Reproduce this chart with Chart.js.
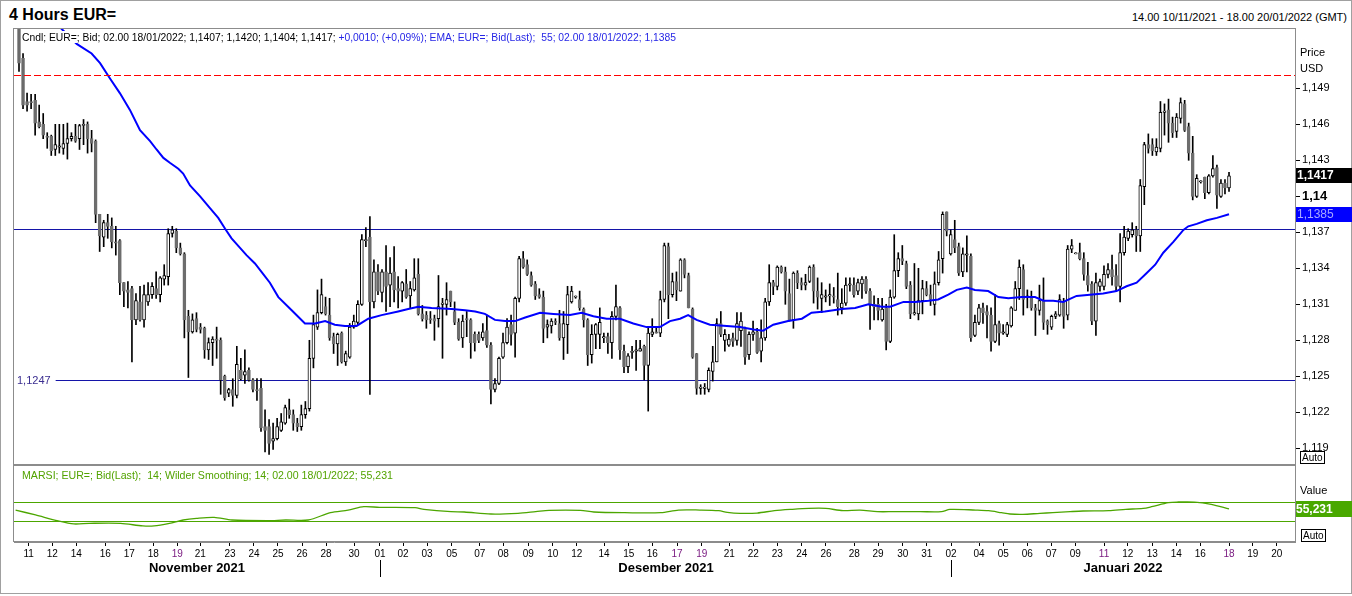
<!DOCTYPE html>
<html><head><meta charset="utf-8">
<script src="https://cdn.jsdelivr.net/npm/chart.js@4.4.1/dist/chart.umd.min.js"></script>
<style>
html,body{margin:0;padding:0;background:#fff;}
body{width:1352px;height:596px;position:relative;overflow:hidden;font-family:"Liberation Sans",Arial,sans-serif;color:#000;}
.t{position:absolute;white-space:pre;line-height:1.1;}
.box{position:absolute;border:1px solid #000;font-size:10px;line-height:11px;padding:0 1px;background:#fff;}
canvas{position:absolute;left:0;}
#frame{position:absolute;left:0;top:0;width:1352px;height:594px;box-sizing:border-box;border:1px solid #a0a0a0;}
</style></head><body>
<div id="frame"></div>
<canvas id="main" width="1352" height="437" style="top:28px"></canvas>
<canvas id="rsi" width="1352" height="125" style="top:465px"></canvas>

<div class="t" style="left:9px;top:6px;font-size:16px;font-weight:bold;">4 Hours EUR=</div>
<div class="t" style="right:5px;top:11px;font-size:11px;">14.00 10/11/2021 - 18.00 20/01/2022 (GMT)</div>
<div id="lg1" class="t" style="left:22px;top:31px;font-size:11px;background:#fff;"><span style="color:#000">Cndl; EUR=; Bid; 02.00 18/01/2022; 1,1407; 1,1420; 1,1404; 1,1417; </span><span style="color:#2626e6">+0,0010; (+0,09%); EMA; EUR=; Bid(Last);  55; 02.00 18/01/2022; 1,1385</span></div>
<div id="lg2" class="t" style="left:22px;top:469px;font-size:11px;color:#52a300;">MARSI; EUR=; Bid(Last);  14; Wilder Smoothing; 14; 02.00 18/01/2022; 55,231</div>
<div class="t" style="left:1300px;top:46px;font-size:11px;">Price</div>
<div class="t" style="left:1300px;top:62px;font-size:11px;">USD</div>
<div class="box" style="left:1300px;top:451px;">Auto</div>
<div class="t" style="left:1300px;top:484px;font-size:11px;">Value</div>
<div class="box" style="left:1301px;top:529px;">Auto</div>
<div class="t" style="left:197px;top:561px;font-size:13px;font-weight:bold;transform:translateX(-50%);">November 2021</div>
<div class="t" style="left:666px;top:561px;font-size:13px;font-weight:bold;transform:translateX(-50%);">Desember 2021</div>
<div class="t" style="left:1123px;top:561px;font-size:13px;font-weight:bold;transform:translateX(-50%);">Januari 2022</div>

<script>
// ---- candle data (4-hour EUR= bid), index = candle number ----
const opens = [
1.1540,1.1515,1.1479,1.1479,1.1480,1.1462,1.1460,1.1450,1.1450,1.1439,
1.1441,1.1440,1.1444,1.1448,1.1450,1.1448,1.1459,1.1460,1.1448,1.1446,
1.1385,1.1366,1.1378,1.1375,1.1362,1.1363,1.1328,1.1322,1.1323,1.1297,
1.1312,1.1297,1.1312,1.1318,1.1323,1.1318,1.1331,1.1333,1.1369,1.1371,
1.1357,1.1352,1.1300,1.1287,1.1298,1.1291,1.1290,1.1272,1.1278,1.1281,
1.1280,1.1250,1.1236,1.1239,1.1234,1.1255,1.1251,1.1255,1.1247,1.1239,
1.1240,1.1208,1.1208,1.1196,1.1198,1.1205,1.1211,1.1222,1.1218,1.1211,
1.1208,1.1218,1.1223,1.1265,1.1291,1.1303,1.1308,1.1301,1.1283,1.1277,
1.1286,1.1262,1.1266,1.1291,1.1295,1.1310,1.1363,1.1366,1.1312,1.1337,
1.1320,1.1337,1.1326,1.1337,1.1323,1.1321,1.1327,1.1317,1.1322,1.1335,
1.1302,1.1301,1.1298,1.1298,1.1298,1.1310,1.1310,1.1321,1.1304,1.1295,
1.1282,1.1298,1.1297,1.1285,1.1285,1.1282,1.1288,1.1276,1.1239,1.1244,
1.1266,1.1278,1.1293,1.1286,1.1315,1.1348,1.1343,1.1334,1.1327,1.1318,
1.1316,1.1291,1.1292,1.1296,1.1294,1.1282,1.1293,1.1312,1.1316,1.1314,
1.1306,1.1297,1.1268,1.1285,1.1285,1.1282,1.1283,1.1278,1.1300,1.1307,
1.1271,1.1258,1.1270,1.1271,1.1271,1.1275,1.1259,1.1285,1.1287,1.1286,
1.1314,1.1358,1.1318,1.1329,1.1321,1.1347,1.1334,1.1306,1.1269,1.1240,
1.1240,1.1239,1.1254,1.1262,1.1294,1.1280,1.1276,1.1282,1.1280,1.1288,
1.1290,1.1268,1.1285,1.1287,1.1271,1.1282,1.1312,1.1328,1.1325,1.1341,
1.1337,1.1319,1.1297,1.1336,1.1328,1.1326,1.1329,1.1341,1.1321,1.1315,
1.1316,1.1317,1.1317,1.1314,1.1307,1.1311,1.1326,1.1326,1.1321,1.1327,
1.1331,1.1321,1.1310,1.1310,1.1297,1.1307,1.1279,1.1316,1.1338,1.1348,
1.1344,1.1326,1.1302,1.1302,1.1313,1.1323,1.1318,1.1310,1.1328,1.1348,
1.1387,1.1352,1.1364,1.1358,1.1337,1.1351,1.1350,1.1284,1.1295,1.1307,
1.1304,1.1301,1.1279,1.1294,1.1286,1.1285,1.1292,1.1305,1.1323,1.1339,
1.1316,1.1315,1.1307,1.1305,1.1313,1.1296,1.1291,1.1300,1.1301,1.1312,
1.1301,1.1356,1.1352,1.1353,1.1348,1.1334,1.1327,1.1296,1.1325,1.1325,
1.1335,1.1339,1.1334,1.1325,1.1353,1.1365,1.1368,1.1372,1.1367,1.1408,
1.1443,1.1443,1.1437,1.1440,1.1470,1.1472,1.1461,1.1454,1.1465,1.1477,
1.1458,1.1436,1.1400,1.1412,1.1416,1.1403,1.1417,1.1424,1.1400,1.1411,
1.1407];
const highs = [
1.1545,1.1519,1.1486,1.1485,1.1485,1.1476,1.1469,1.1453,1.1451,1.1460,
1.1460,1.1460,1.1461,1.1453,1.1460,1.1460,1.1464,1.1462,1.1455,1.1447,
1.1385,1.1380,1.1385,1.1382,1.1375,1.1364,1.1328,1.1329,1.1325,1.1319,
1.1325,1.1326,1.1328,1.1328,1.1337,1.1333,1.1343,1.1373,1.1375,1.1373,
1.1361,1.1353,1.1305,1.1302,1.1303,1.1294,1.1291,1.1282,1.1283,1.1291,
1.1282,1.1251,1.1240,1.1248,1.1275,1.1265,1.1272,1.1257,1.1248,1.1248,
1.1248,1.1222,1.1214,1.1211,1.1215,1.1219,1.1226,1.1231,1.1222,1.1215,
1.1226,1.1229,1.1280,1.1301,1.1322,1.1331,1.1316,1.1315,1.1286,1.1286,
1.1287,1.1271,1.1294,1.1301,1.1313,1.1368,1.1374,1.1383,1.1347,1.1343,
1.1339,1.1359,1.1349,1.1358,1.1333,1.1329,1.1339,1.1329,1.1348,1.1348,
1.1309,1.1304,1.1304,1.1301,1.1334,1.1315,1.1328,1.1321,1.1312,1.1298,
1.1301,1.1304,1.1298,1.1287,1.1287,1.1294,1.1301,1.1278,1.1248,1.1266,
1.1286,1.1298,1.1301,1.1316,1.1350,1.1354,1.1347,1.1337,1.1329,1.1323,
1.1321,1.1297,1.1298,1.1298,1.1305,1.1304,1.1325,1.1325,1.1317,1.1321,
1.1307,1.1298,1.1293,1.1294,1.1307,1.1286,1.1286,1.1304,1.1326,1.1308,
1.1276,1.1269,1.1275,1.1280,1.1280,1.1276,1.1291,1.1298,1.1291,1.1321,
1.1361,1.1361,1.1336,1.1337,1.1348,1.1348,1.1336,1.1307,1.1269,1.1243,
1.1244,1.1257,1.1275,1.1298,1.1304,1.1289,1.1285,1.1286,1.1303,1.1303,
1.1291,1.1287,1.1296,1.1290,1.1297,1.1315,1.1343,1.1330,1.1342,1.1342,
1.1341,1.1331,1.1337,1.1338,1.1332,1.1335,1.1342,1.1343,1.1332,1.1328,
1.1322,1.1327,1.1324,1.1336,1.1323,1.1332,1.1332,1.1332,1.1331,1.1333,
1.1333,1.1323,1.1317,1.1315,1.1315,1.1310,1.1322,1.1368,1.1353,1.1359,
1.1346,1.1329,1.1344,1.1340,1.1330,1.1329,1.1326,1.1337,1.1354,1.1387,
1.1387,1.1372,1.1380,1.1361,1.1357,1.1367,1.1352,1.1301,1.1310,1.1311,
1.1309,1.1307,1.1318,1.1296,1.1293,1.1295,1.1308,1.1329,1.1347,1.1343,
1.1322,1.1321,1.1310,1.1326,1.1332,1.1297,1.1301,1.1304,1.1318,1.1315,
1.1359,1.1364,1.1353,1.1361,1.1353,1.1345,1.1329,1.1336,1.1331,1.1342,
1.1344,1.1351,1.1343,1.1369,1.1375,1.1373,1.1378,1.1375,1.1414,1.1445,
1.1452,1.1448,1.1448,1.1479,1.1477,1.1481,1.1466,1.1469,1.1482,1.1480,
1.1461,1.1450,1.1418,1.1413,1.1416,1.1418,1.1434,1.1426,1.1414,1.1414,
1.1420];
const lows = [
1.1504,1.1473,1.1471,1.1473,1.1451,1.1457,1.1448,1.1440,1.1434,1.1434,
1.1436,1.1435,1.1431,1.1446,1.1445,1.1439,1.1443,1.1436,1.1437,1.1378,
1.1354,1.1358,1.1365,1.1357,1.1351,1.1318,1.1308,1.1307,1.1262,1.1293,
1.1296,1.1291,1.1309,1.1315,1.1315,1.1312,1.1326,1.1326,1.1366,1.1353,
1.1351,1.1282,1.1249,1.1286,1.1287,1.1286,1.1265,1.1264,1.1259,1.1265,
1.1235,1.1230,1.1233,1.1225,1.1232,1.1247,1.1244,1.1246,1.1237,1.1230,
1.1204,1.1187,1.1185,1.1189,1.1197,1.1204,1.1210,1.1215,1.1205,1.1204,
1.1205,1.1215,1.1221,1.1257,1.1289,1.1302,1.1301,1.1280,1.1269,1.1259,
1.1261,1.1259,1.1265,1.1290,1.1293,1.1309,1.1358,1.1235,1.1307,1.1318,
1.1312,1.1304,1.1308,1.1312,1.1307,1.1312,1.1315,1.1307,1.1321,1.1301,
1.1296,1.1290,1.1294,1.1280,1.1291,1.1265,1.1301,1.1308,1.1293,1.1280,
1.1274,1.1283,1.1265,1.1271,1.1278,1.1280,1.1274,1.1227,1.1237,1.1243,
1.1265,1.1277,1.1276,1.1266,1.1312,1.1340,1.1334,1.1325,1.1314,1.1315,
1.1278,1.1282,1.1286,1.1293,1.1280,1.1264,1.1269,1.1311,1.1315,1.1305,
1.1291,1.1259,1.1261,1.1273,1.1273,1.1278,1.1269,1.1265,1.1297,1.1264,
1.1253,1.1253,1.1265,1.1255,1.1271,1.1247,1.1221,1.1283,1.1286,1.1283,
1.1312,1.1298,1.1316,1.1313,1.1321,1.1332,1.1307,1.1265,1.1235,1.1235,
1.1235,1.1237,1.1246,1.1262,1.1283,1.1271,1.1275,1.1275,1.1276,1.1275,
1.1260,1.1264,1.1280,1.1269,1.1262,1.1280,1.1309,1.1318,1.1322,1.1336,
1.1310,1.1296,1.1290,1.1323,1.1322,1.1322,1.1328,1.1311,1.1306,1.1303,
1.1312,1.1309,1.1311,1.1301,1.1302,1.1309,1.1321,1.1316,1.1318,1.1315,
1.1319,1.1289,1.1297,1.1297,1.1296,1.1272,1.1278,1.1315,1.1333,1.1343,
1.1323,1.1298,1.1301,1.1297,1.1302,1.1317,1.1309,1.1301,1.1326,1.1336,
1.1367,1.1351,1.1353,1.1334,1.1333,1.1337,1.1279,1.1283,1.1293,1.1294,
1.1282,1.1271,1.1278,1.1276,1.1285,1.1283,1.1291,1.1305,1.1314,1.1301,
1.1307,1.1305,1.1284,1.1301,1.1289,1.1285,1.1289,1.1298,1.1300,1.1290,
1.1297,1.1353,1.1352,1.1347,1.1330,1.1321,1.1293,1.1284,1.1321,1.1322,
1.1332,1.1326,1.1321,1.1312,1.1351,1.1363,1.1366,1.1354,1.1354,1.1393,
1.1436,1.1434,1.1434,1.1437,1.1451,1.1445,1.1449,1.1449,1.1461,1.1454,
1.1430,1.1397,1.1399,1.1411,1.1398,1.1402,1.1416,1.1390,1.1399,1.1402,
1.1404];
const closes = [
1.1511,1.1476,1.1476,1.1478,1.1461,1.1458,1.1451,1.1449,1.1438,1.1443,
1.1442,1.1444,1.1448,1.1450,1.1446,1.1459,1.1460,1.1448,1.1444,1.1385,
1.1367,1.1378,1.1375,1.1362,1.1361,1.1328,1.1321,1.1320,1.1297,1.1313,
1.1297,1.1318,1.1318,1.1325,1.1318,1.1332,1.1334,1.1369,1.1372,1.1357,
1.1352,1.1297,1.1287,1.1297,1.1289,1.1289,1.1272,1.1278,1.1281,1.1280,
1.1247,1.1232,1.1239,1.1234,1.1260,1.1248,1.1254,1.1247,1.1239,1.1238,
1.1207,1.1205,1.1194,1.1198,1.1208,1.1212,1.1224,1.1218,1.1211,1.1208,
1.1218,1.1223,1.1265,1.1293,1.1303,1.1318,1.1302,1.1282,1.1277,1.1285,
1.1262,1.1269,1.1291,1.1296,1.1310,1.1364,1.1364,1.1312,1.1337,1.1321,
1.1337,1.1325,1.1336,1.1322,1.1321,1.1328,1.1316,1.1323,1.1332,1.1302,
1.1298,1.1297,1.1297,1.1296,1.1308,1.1311,1.1314,1.1312,1.1295,1.1281,
1.1296,1.1297,1.1278,1.1278,1.1280,1.1287,1.1276,1.1239,1.1244,1.1265,
1.1278,1.1291,1.1285,1.1315,1.1348,1.1341,1.1335,1.1326,1.1317,1.1316,
1.1290,1.1293,1.1296,1.1295,1.1282,1.1294,1.1318,1.1321,1.1316,1.1307,
1.1297,1.1268,1.1285,1.1293,1.1295,1.1283,1.1278,1.1300,1.1308,1.1272,
1.1258,1.1267,1.1270,1.1272,1.1273,1.1259,1.1286,1.1287,1.1286,1.1314,
1.1359,1.1318,1.1329,1.1322,1.1347,1.1335,1.1307,1.1266,1.1240,1.1241,
1.1241,1.1255,1.1262,1.1294,1.1285,1.1285,1.1281,1.1279,1.1294,1.1296,
1.1266,1.1285,1.1287,1.1270,1.1282,1.1312,1.1328,1.1325,1.1341,1.1337,
1.1321,1.1297,1.1336,1.1328,1.1326,1.1328,1.1341,1.1321,1.1316,1.1318,
1.1317,1.1318,1.1316,1.1308,1.1311,1.1326,1.1327,1.1318,1.1328,1.1331,
1.1321,1.1310,1.1308,1.1305,1.1306,1.1279,1.1316,1.1338,1.1348,1.1346,
1.1325,1.1302,1.1303,1.1313,1.1323,1.1318,1.1314,1.1327,1.1347,1.1385,
1.1371,1.1368,1.1357,1.1336,1.1352,1.1352,1.1282,1.1295,1.1307,1.1303,
1.1301,1.1279,1.1293,1.1286,1.1287,1.1293,1.1307,1.1323,1.1341,1.1314,
1.1317,1.1307,1.1305,1.1313,1.1295,1.1293,1.1300,1.1302,1.1314,1.1300,
1.1356,1.1359,1.1352,1.1348,1.1335,1.1326,1.1296,1.1328,1.1329,1.1335,
1.1339,1.1333,1.1325,1.1353,1.1366,1.1371,1.1372,1.1367,1.1409,1.1443,
1.1440,1.1438,1.1441,1.1470,1.1471,1.1461,1.1453,1.1466,1.1478,1.1455,
1.1436,1.1400,1.1415,1.1412,1.1403,1.1417,1.1423,1.1401,1.1411,1.1407,
1.1417];

// ---- EMA 55 ----
const emaIdx = [6.0,10.4,14.3,18.0,20.1,22.6,25.0,27.5,30.0,32.5,34.1,35.8,37.4,39.5,40.7,42.4,44.9,47.4,49.4,51.1,52.7,54.8,56.4,58.5,60.6,62.2,64.3,67.6,70.9,73.4,75.9,78.3,80.8,83.7,86.6,89.9,94.0,96.5,99.0,102.3,107.3,110.6,113.1,115.5,118.0,120.5,123.0,125.5,129.2,132.5,136.6,139.5,142.4,145.7,149.0,152.3,155.6,158.9,161.4,163.9,165.9,168.0,171.3,175.5,178.8,182.1,184.5,187.0,190.7,194.1,196.5,199.8,204.0,207.3,210.6,213.9,216.0,219.3,222.2,225.5,227.9,230.4,232.5,235.0,237.0,240.3,242.8,245.3,248.6,251.9,254.0,256.4,258.9,262.2,265.5,268.8,272.1,274.6,277.1,279.6,281.7,283.7,286.2,288.7,289.9,292.0,294.5,297.0,300.0];
const emaVal = [1.1556,1.1540,1.1527,1.1519,1.1511,1.1498,1.1486,1.1472,1.1455,1.1446,1.1439,1.1432,1.1428,1.1423,1.1419,1.1409,1.1400,1.1390,1.1382,1.1373,1.1365,1.1357,1.1351,1.1344,1.1335,1.1328,1.1316,1.1305,1.1294,1.1294,1.1296,1.1293,1.1292,1.1292,1.1298,1.1301,1.1304,1.1306,1.1308,1.1307,1.1306,1.1305,1.1304,1.1302,1.1297,1.1296,1.1296,1.1299,1.1303,1.1302,1.1301,1.1303,1.1300,1.1298,1.1298,1.1294,1.1291,1.1291,1.1296,1.1298,1.1301,1.1297,1.1293,1.1292,1.1291,1.1289,1.1288,1.1293,1.1296,1.1298,1.1303,1.1304,1.1306,1.1307,1.1310,1.1308,1.1308,1.1312,1.1312,1.1313,1.1314,1.1318,1.1322,1.1324,1.1322,1.1321,1.1316,1.1315,1.1316,1.1316,1.1313,1.1313,1.1312,1.1317,1.1318,1.1319,1.1321,1.1325,1.1328,1.1336,1.1343,1.1353,1.1362,1.1372,1.1375,1.1377,1.1380,1.1382,1.1385];

// ---- MA RSI 14 ----
const rsiIdx = [-0.84,4.1,9.7,13.6,17.4,25.2,30.7,33.5,37.3,40.7,44.0,48.4,52.8,61.7,66.1,71.7,77.2,81.6,85.5,89.4,98.2,100.4,107.1,110.4,117.0,123.7,128.1,131.4,139.2,142.5,150.2,159.1,163.5,168.8,173.5,175.6,178.8,183.0,187.3,191.5,195.8,200.0,204.3,208.5,212.8,217.0,223.4,228.7,230.8,237.2,240.4,243.6,245.7,248.9,253.1,256.3,260.6,263.8,270.2,274.4,278.7,280.8,285.0,287.1,291.4,295.6,300.0];
const rsiVal = [53.0,42.9,30.7,24.6,25.9,25.9,20.5,20.5,25.9,32.7,36.1,38.1,32.7,31.4,32.7,32.7,47.6,53.0,59.8,58.5,57.8,54.4,49.7,49.0,44.9,46.3,49.7,52.4,52.4,49.0,47.6,47.6,53.0,53.0,51.7,48.3,46.3,46.9,51.7,54.4,56.4,56.4,51.7,53.0,49.7,49.7,49.7,49.7,54.4,53.0,51.7,47.6,44.9,44.2,46.3,47.6,49.7,51.0,51.7,54.4,56.4,59.8,68.0,69.3,69.3,64.6,55.231];
const rsiUpper = 70, rsiLower = 30;

// ---- horizontal levels ----
const resistanceLevel = 1.1373;
const supportLevel = 1.1247;
const alertLevel = 1.1501;

// ---- axes ----
const priceTicks = [1.119,1.122,1.125,1.128,1.131,1.134,1.137,1.14,1.143,1.146,1.149];
const tickPos = [2.40,8.26,14.21,21.40,27.35,33.30,39.25,44.95,52.31,58.26,64.21,70.17,76.12,83.06,89.50,95.21,101.16,107.28,114.22,120.07,126.27,132.32,138.27,145.04,151.17,157.02,163.14,169.27,176.11,182.06,188.01,194.06,200.08,207.10,212.98,219.10,225.05,231.08,238.02,244.04,250.0,255.94,261.89,269.01,274.88,280.98,286.94,292.89,300.00,305.88,311.83];
const tickLbl = ['11','12','14','16','17','18','19','21','23','24','25','26','28','30','01','02','03','05','07','08','09','10','12','14','15','16','17','19','21','22','23','24','26','28','29','30','31','02','04','05','06','07','09','11','12','13','14','16','18','19','20'];
const purpleTicks = [6,26,27,43,48];
const monthStartTicks = [14,37];
const xMin = -1.24, xMax = 316.36;
const yMin = 1.117608, yMax = 1.154025;
const rsiMin = -12.2, rsiMax = 144.9;

const FONT = '"Liberation Sans", Arial, sans-serif';
const GREY = '#6d6d6d', FRAME = '#8c8c8c', GREEN = '#4ca600', NAVY = '#1414a8', RED = 'rgb(255,0,0)';
const fmt4 = v => v.toFixed(4).replace('.', ',');
const isUp = i => closes[i] >= opens[i];

function frame(chart){
  const {ctx, chartArea:a} = chart;
  ctx.save();
  ctx.strokeStyle = FRAME; ctx.lineWidth = 1;
  ctx.strokeRect(a.left - 0.5, a.top + 0.5, a.right - a.left + 1, a.bottom - a.top - 1);
  ctx.restore();
}
function hline(ctx, x0, x1, y, color, dash){
  ctx.fillStyle = color;
  const yy = Math.round(y);
  if (!dash) { ctx.fillRect(x0, yy, x1 - x0, 1); return; }
  for (let x = x0; x < x1; x += dash[0] + dash[1]) ctx.fillRect(x, yy, Math.min(dash[0], x1 - x), 1);
}

const mainDeco = {
  id: 'mainDeco',
  beforeDatasetsDraw(chart){
    const {ctx, chartArea:a, scales:{y}} = chart;
    ctx.save();
    hline(ctx, a.left, a.right, y.getPixelForValue(resistanceLevel), NAVY);
    ctx.font = '11px ' + FONT;
    const lbl = fmt4(supportLevel);
    const w = ctx.measureText(lbl).width;
    const py = y.getPixelForValue(supportLevel);
    hline(ctx, a.left + 3 + w + 5, a.right, py, NAVY);
    ctx.fillStyle = '#3a2d90'; ctx.textBaseline = 'middle'; ctx.textAlign = 'left';
    ctx.fillText(lbl, a.left + 3, Math.round(py) + 1);
    ctx.restore();
  },
  afterDatasetsDraw(chart){
    const {ctx, chartArea:a, scales:{y}} = chart;
    ctx.save();
    hline(ctx, a.left, a.right, y.getPixelForValue(alertLevel), RED, [7,3]);
    ctx.restore();
  },
  afterDraw(chart){
    frame(chart);
    const {ctx, chartArea:a, scales:{y}} = chart;
    const W = chart.width;
    ctx.save();
    ctx.textBaseline = 'middle'; ctx.textAlign = 'left';
    let py = Math.round(y.getPixelForValue(closes[closes.length-1]));
    ctx.fillStyle = '#000'; ctx.fillRect(a.right + 1, py - 8, W - a.right - 1, 15);
    ctx.fillStyle = '#fff'; ctx.font = 'bold 12px ' + FONT;
    ctx.fillText(fmt4(closes[closes.length-1]), a.right + 2, py);
    py = Math.round(y.getPixelForValue(emaVal[emaVal.length-1]));
    ctx.fillStyle = '#0000ff'; ctx.fillRect(a.right + 1, py - 7, W - a.right - 1, 15);
    ctx.fillStyle = '#a8a8ff'; ctx.font = '12px ' + FONT;
    ctx.fillText(fmt4(emaVal[emaVal.length-1]), a.right + 2, py + 1);
    ctx.restore();
  }
};

const rsiDeco = {
  id: 'rsiDeco',
  beforeDatasetsDraw(chart){
    const {ctx, chartArea:a, scales:{y}} = chart;
    ctx.save();
    [rsiUpper, rsiLower].forEach(v => hline(ctx, a.left, a.right, y.getPixelForValue(v), GREEN));
    ctx.restore();
  },
  afterDraw(chart){
    frame(chart);
    const {ctx, chartArea:a, scales:{x, y}} = chart;
    const W = chart.width;
    ctx.save();
    const last = rsiVal[rsiVal.length-1];
    const py = Math.round(y.getPixelForValue(last));
    ctx.fillStyle = '#49a800'; ctx.fillRect(a.right + 1, py - 8, W - a.right - 1, 16);
    ctx.fillStyle = '#fff'; ctx.font = 'bold 12px ' + FONT;
    ctx.textBaseline = 'middle'; ctx.textAlign = 'left';
    ctx.fillText(last.toFixed(3).replace('.', ','), a.right + 1, py + 1);
    ctx.fillStyle = '#000';
    monthStartTicks.forEach(k => {
      const px = Math.round(x.getPixelForValue(tickPos[k]));
      ctx.fillRect(px, a.bottom + 18, 1, 17);
    });
    ctx.restore();
  }
};

new Chart(document.getElementById('main'), {
  type: 'bar',
  data: { datasets: [
    { type: 'line', data: emaIdx.map((v, i) => ({x: v, y: emaVal[i]})),
      borderColor: '#0000ff', borderWidth: 2, pointRadius: 0, tension: 0, order: 0 },
    { type: 'bar', data: opens.map((o, i) => ({x: i, y: [o, closes[i]]})),
      grouped: false, barThickness: 3, minBarLength: 1, borderSkipped: false, borderWidth: 1,
      backgroundColor: c => isUp(c.dataIndex) ? '#ffffff' : GREY,
      borderColor: c => isUp(c.dataIndex) ? '#000000' : GREY, order: 1 },
    { type: 'bar', data: lows.map((l, i) => ({x: i, y: [l, highs[i]]})),
      grouped: false, barThickness: 1, borderWidth: 0, backgroundColor: '#000', order: 2 }
  ]},
  options: {
    responsive: false, animation: false, events: [],
    layout: { padding: { left: 14, right: 0, top: 0, bottom: 0 } },
    plugins: { legend: { display: false }, tooltip: { enabled: false } },
    scales: {
      x: { type: 'linear', min: xMin, max: xMax, offset: false, display: false },
      y: { position: 'right', min: yMin, max: yMax,
        afterBuildTicks: s => { s.ticks = priceTicks.map(v => ({value: v})); },
        afterFit: s => { s.width = 57; s.paddingTop = 0; s.paddingBottom = 0; },
        grid: { drawOnChartArea: false, drawTicks: true, tickLength: 5, color: '#000' },
        border: { color: FRAME },
        ticks: { padding: 2, color: '#000',
          callback: v => String(+(+v).toFixed(3)).replace('.', ','),
          font: c => (c.tick && Math.abs(c.tick.value - 1.14) < 1e-6) ? {family: FONT, size: 13, weight: 'bold'} : {family: FONT, size: 11} } }
    }
  },
  plugins: [mainDeco]
});

new Chart(document.getElementById('rsi'), {
  type: 'line',
  data: { datasets: [
    { data: rsiIdx.map((v, i) => ({x: v, y: rsiVal[i]})), borderColor: GREEN, borderWidth: 1.3, pointRadius: 0, tension: 0.3 }
  ]},
  options: {
    responsive: false, animation: false, events: [],
    layout: { padding: { left: 14, right: 0, top: 0, bottom: 0 } },
    plugins: { legend: { display: false }, tooltip: { enabled: false } },
    scales: {
      x: { type: 'linear', min: xMin, max: xMax, offset: false,
        afterBuildTicks: s => { s.ticks = tickPos.map(v => ({value: v})); },
        afterFit: s => { s.height = 48; s.paddingLeft = 0; s.paddingRight = 0; },
        grid: { drawOnChartArea: false, drawTicks: true, tickLength: 4, color: '#000' },
        border: { color: FRAME },
        ticks: { autoSkip: false, maxRotation: 0, minRotation: 0, padding: 2,
          callback: (v, i) => tickLbl[i],
          color: c => purpleTicks.includes(c.index) ? '#7a1a80' : '#000',
          font: { family: FONT, size: 10 } } },
      y: { position: 'right', min: rsiMin, max: rsiMax,
        afterFit: s => { s.width = 57; s.paddingTop = 0; s.paddingBottom = 0; },
        grid: { display: false }, border: { color: FRAME },
        ticks: { display: false } }
    }
  },
  plugins: [rsiDeco]
});

function fitWidth(id, target){
  const el = document.getElementById(id);
  const w = el.getBoundingClientRect().width;
  el.style.transformOrigin = 'left top';
  el.style.transform = 'scaleX(' + (target / w) + ')';
}
fitWidth('lg1', 654);
fitWidth('lg2', 371);
</script>
</body></html>
